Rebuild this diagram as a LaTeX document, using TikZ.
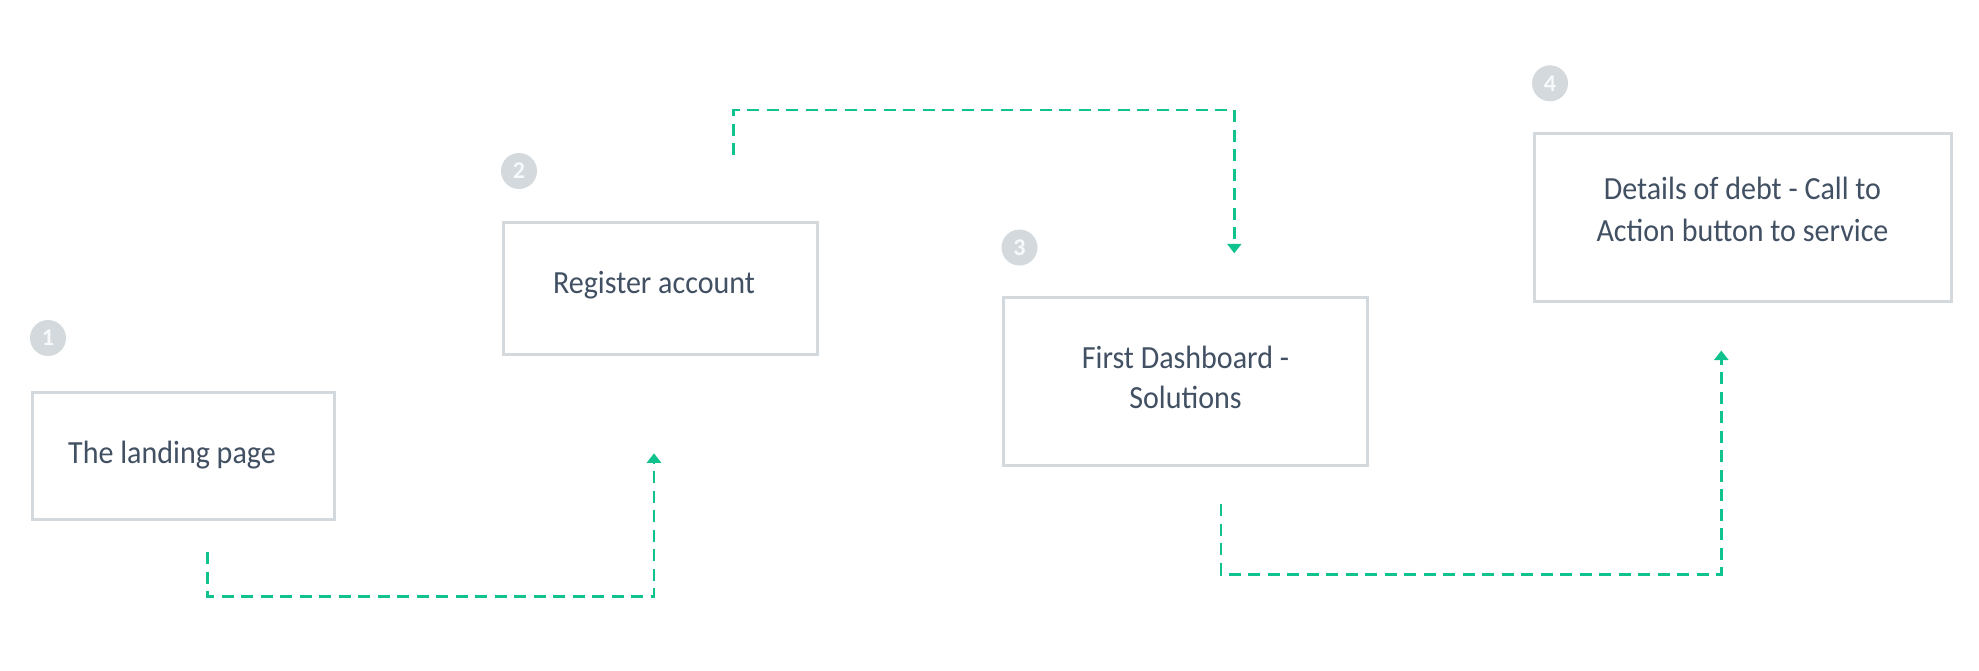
\documentclass[tikz,border=0pt]{standalone}
\usepackage{fontspec}
\setmainfont{Carlito}[FakeStretch=0.93]
\newfontfamily\badgefont{Carlito Bold}
\usetikzlibrary{arrows.meta}
\definecolor{boxgray}{HTML}{D3D9DD}
\definecolor{txtdark}{HTML}{415062}
\definecolor{flowgreen}{HTML}{10C28D}
\definecolor{numwhite}{HTML}{F7F9FA}
\tikzset{
  stepbox/.style={draw=boxgray, line width=3pt, fill=white, rectangle, inner sep=0pt},
  lbl/.style={text=txtdark, font=\fontsize{32.3}{40}\selectfont, anchor=base, inner sep=0pt},
  badge/.style={circle, fill=boxgray, minimum size=36pt, inner sep=0pt, text=numwhite, font=\badgefont\fontsize{24}{24}\selectfont},
  conn/.style={draw=flowgreen, line width=2.6pt, dash pattern=on 12pt off 7.5pt, -{Triangle[width=14pt,length=9.5pt]}}
}
\begin{document}
\begin{tikzpicture}[x=1pt,y=-1pt]
\useasboundingbox (0,0) rectangle (1979,670);
% boxes
\node[stepbox, minimum width=302pt, minimum height=127pt] (b1) at (183.5,455.5) {};
\node[stepbox, minimum width=314pt, minimum height=132pt] (b2) at (660.5,288.5) {};
\node[stepbox, minimum width=364pt, minimum height=168pt] (b3) at (1185.5,381.5) {};
\node[stepbox, minimum width=416.5pt, minimum height=168pt] (b4) at (1742.75,217.5) {};
% labels
\node[lbl] (t1) at (172,463.3) {The landing page};
\node[lbl] (t2) at (654,293.3) {Register account};
\node[lbl] (t3a) at (1185.5,368.3) {First Dashboard -};
\node[lbl] (t3b) at (1185.5,408.3) {Solutions};
\node[lbl] (t4a) at (1742.5,199.3) {Details of debt - Call to};
\node[lbl] (t4b) at (1742.5,241.7) {Action button to service};
% badges
\node[badge] (n1) at (48,338) {1};
\node[badge] (n2) at (519,171) {2};
\node[badge] (n3) at (1019.5,247.5) {3};
\node[badge] (n4) at (1550,83.3) {4};
% connectors
\coordinate (c1s) at (207.7,552);
\coordinate (c1m) at (654,596.7);
\coordinate (c1e) at (654,453.3);
\coordinate (c2s) at (733.5,155);
\coordinate (c2m) at (1234.3,110);
\coordinate (c2e) at (1234.3,253.3);
\coordinate (c3s) at (1221,504);
\coordinate (c3m) at (1721.3,574.3);
\coordinate (c3e) at (1721.3,350.5);
\draw[conn] (c1s) |- (c1m) -- (c1e);
\draw[conn] (c2s) |- (c2m) -- (c2e);
\draw[conn] (c3s) |- (c3m) -- (c3e);
\end{tikzpicture}
\end{document}
